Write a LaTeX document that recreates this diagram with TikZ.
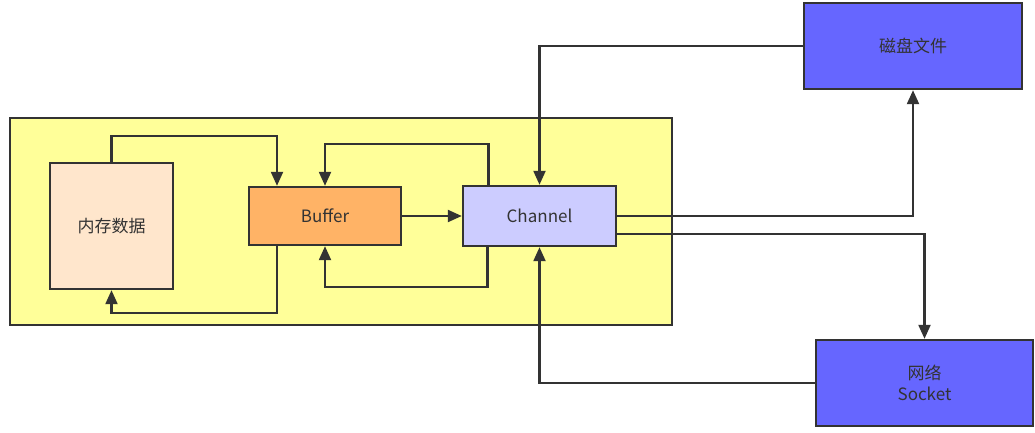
\documentclass[tikz,border=0pt]{standalone}
\usepackage{fontspec}
\setmainfont{Noto Sans CJK SC}
\usetikzlibrary{arrows.meta}

\definecolor{linegray}{HTML}{333333}
\definecolor{appyellow}{HTML}{FFFF99}
\definecolor{mempeach}{HTML}{FFE6CC}
\definecolor{buforange}{HTML}{FFB366}
\definecolor{chanlilac}{HTML}{CCCCFF}
\definecolor{ioblue}{HTML}{6666FF}

\begin{document}
\begin{tikzpicture}[x=1pt,y=-1pt,
    box/.style={draw=linegray,line width=2.4pt,text=linegray,font=\fontsize{17}{21}\selectfont,align=center,inner sep=0pt},
    arr/.style={draw=linegray,line width=2.2pt,-{Triangle[length=14pt,width=12pt]}}]
  \useasboundingbox (0,0) rectangle (1035,433);
  \node[box,fill=appyellow,minimum width=662,minimum height=207] (app) at (341,221.5) {};
  \node[box,fill=mempeach,minimum width=123,minimum height=126] (mem) at (111.5,226) {内存数据};
  \node[box,fill=buforange,minimum width=152,minimum height=58] (buf) at (325,216) {Buffer};
  \node[box,fill=chanlilac,minimum width=153,minimum height=60] (chan) at (539.5,216) {Channel};
  \node[box,fill=ioblue,minimum width=218,minimum height=86] (disk) at (913,46) {磁盘文件};
  \node[box,fill=ioblue,minimum width=217,minimum height=86] (net) at (924.5,383) {网络\\Socket};
  % memory <-> buffer
  \draw[arr] (mem.north) -- ++(0,-26) -| ([xshift=-48pt]buf.north);
  \draw[arr] ([xshift=-48pt]buf.south) -- ++(0,67) -| (mem.south);
  % buffer <-> channel
  \draw[arr] (buf.east) -- (chan.west);
  \draw[arr] ([xshift=-51pt]chan.north) -- ++(0,-41) -| (buf.north);
  \draw[arr] ([xshift=-52pt]chan.south) -- ++(0,40) -| (buf.south);
  % channel <-> file / socket
  \draw[arr] (disk.west) -| (chan.north);
  \draw[arr] (net.west) -| (chan.south);
  \draw[arr] (chan.east) -| (disk.south);
  \draw[arr] ([yshift=-18pt]chan.east) -| (net.north);
\end{tikzpicture}
\end{document}
